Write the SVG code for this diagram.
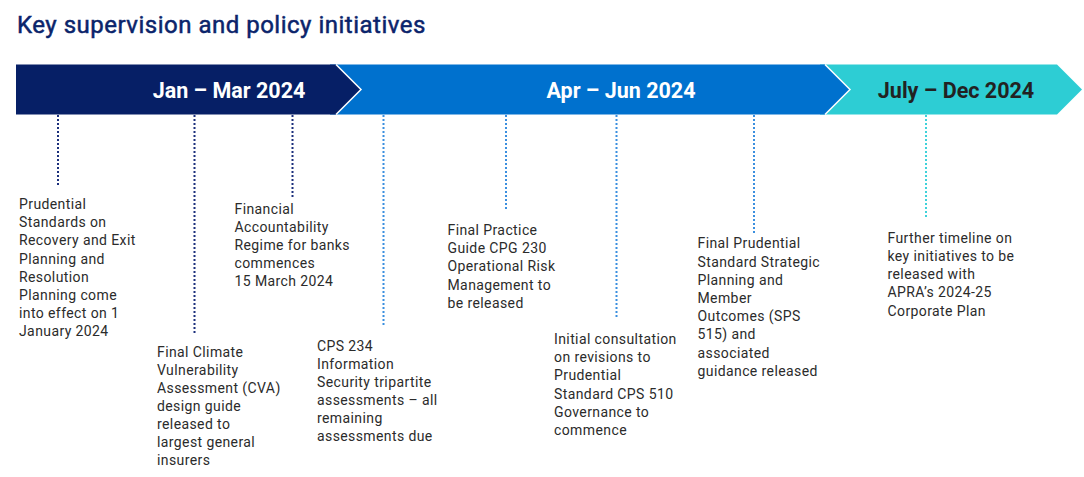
<svg xmlns="http://www.w3.org/2000/svg" width="1084" height="477" viewBox="0 0 1084 477">
<style>
.title{font-family:Roboto,"Liberation Sans",sans-serif;font-size:24px;font-weight:400;fill:#0b246b;stroke:#0b246b;stroke-width:0.5px;letter-spacing:0.5px}
.band{font-family:Roboto,"Liberation Sans",sans-serif;font-size:21.5px;font-weight:700;text-anchor:middle}
.body{font-family:Roboto,"Liberation Sans",sans-serif;font-size:14px;fill:#2b2b2b;letter-spacing:0.4px}
.sep{fill:none;stroke:#ffffff;stroke-width:1.5}
.dot{fill:none;stroke-width:2;stroke-dasharray:2 2}
.navy{stroke:#1b2f7c}
.blue{stroke:#3a8fdf}
.teal{stroke:#3fd2da}
</style>
<rect width="1084" height="477" fill="#ffffff"/>
<text class="title" x="17" y="32.5">Key supervision and policy initiatives</text>

<g id="phase-jul-dec">
<polygon points="820,64.5 1057,64.5 1082,89.5 1057,114.5 820,114.5" fill="#2dcdd4"/>
<text class="band" x="956" y="97.5" fill="#222222">July – Dec 2024</text>
</g>
<g id="phase-apr-jun">
<polygon points="330,64.5 825,64.5 850,89.5 825,114.5 330,114.5" fill="#0071ce"/>
<polyline class="sep" points="825,64.5 850,89.5 825,114.5"/>
<text class="band" x="621" y="97.5" fill="#ffffff">Apr – Jun 2024</text>
</g>
<g id="phase-jan-mar">
<polygon points="16,64.5 336,64.5 361,89.5 336,114.5 16,114.5" fill="#061f66"/>
<polyline class="sep" points="336,64.5 361,89.5 336,114.5"/>
<text class="band" x="229" y="97.5" fill="#ffffff">Jan – Mar 2024</text>
</g>

<g id="connectors">
<line class="dot navy" x1="58" y1="115" x2="58" y2="187"/>
<line class="dot navy" x1="194.5" y1="115" x2="194.5" y2="335"/>
<line class="dot navy" x1="292.5" y1="115" x2="292.5" y2="197"/>
<line class="dot blue" x1="383.5" y1="115" x2="383.5" y2="325"/>
<line class="dot blue" x1="506" y1="115" x2="506" y2="210"/>
<line class="dot blue" x1="616.5" y1="115" x2="616.5" y2="318"/>
<line class="dot blue" x1="754" y1="115" x2="754" y2="233"/>
<line class="dot teal" x1="926" y1="115" x2="926" y2="219"/>
</g>

<g id="m-recovery-exit">
<text class="body" x="19" y="209"><tspan x="19">Prudential</tspan><tspan x="19" dy="18.2">Standards on</tspan><tspan x="19" dy="18.2">Recovery and Exit</tspan><tspan x="19" dy="18.2">Planning and</tspan><tspan x="19" dy="18.2">Resolution</tspan><tspan x="19" dy="18.2">Planning come</tspan><tspan x="19" dy="18.2">into effect on 1</tspan><tspan x="19" dy="18.2">January 2024</tspan></text>
</g>
<g id="m-cva">
<text class="body" x="157" y="356.5"><tspan x="157">Final Climate</tspan><tspan x="157" dy="18.1">Vulnerability</tspan><tspan x="157" dy="18.1">Assessment (CVA)</tspan><tspan x="157" dy="18.1">design guide</tspan><tspan x="157" dy="18.1">released to</tspan><tspan x="157" dy="18.1">largest general</tspan><tspan x="157" dy="18.1">insurers</tspan></text>
</g>
<g id="m-far">
<text class="body" x="234.5" y="213.5"><tspan x="234.5">Financial</tspan><tspan x="234.5" dy="18.2">Accountability</tspan><tspan x="234.5" dy="18.2">Regime for banks</tspan><tspan x="234.5" dy="18.2">commences</tspan><tspan x="234.5" dy="18.2">15 March 2024</tspan></text>
</g>
<g id="m-cps234">
<text class="body" x="317" y="350.5"><tspan x="317">CPS 234</tspan><tspan x="317" dy="18.1">Information</tspan><tspan x="317" dy="18.1">Security tripartite</tspan><tspan x="317" dy="18.1">assessments – all</tspan><tspan x="317" dy="18.1">remaining</tspan><tspan x="317" dy="18.1">assessments due</tspan></text>
</g>
<g id="m-cpg230">
<text class="body" x="447.5" y="235"><tspan x="447.5">Final Practice</tspan><tspan x="447.5" dy="18.2">Guide CPG 230</tspan><tspan x="447.5" dy="18.2">Operational Risk</tspan><tspan x="447.5" dy="18.2">Management to</tspan><tspan x="447.5" dy="18.2">be released</tspan></text>
</g>
<g id="m-cps510">
<text class="body" x="554" y="344"><tspan x="554">Initial consultation</tspan><tspan x="554" dy="18.2">on revisions to</tspan><tspan x="554" dy="18.2">Prudential</tspan><tspan x="554" dy="18.2">Standard CPS 510</tspan><tspan x="554" dy="18.2">Governance to</tspan><tspan x="554" dy="18.2">commence</tspan></text>
</g>
<g id="m-sps515">
<text class="body" x="697.5" y="248.3"><tspan x="697.5">Final Prudential</tspan><tspan x="697.5" dy="18.2">Standard Strategic</tspan><tspan x="697.5" dy="18.2">Planning and</tspan><tspan x="697.5" dy="18.2">Member</tspan><tspan x="697.5" dy="18.2">Outcomes (SPS</tspan><tspan x="697.5" dy="18.2">515) and</tspan><tspan x="697.5" dy="18.2">associated</tspan><tspan x="697.5" dy="18.2">guidance released</tspan></text>
</g>
<g id="m-corporate-plan">
<text class="body" x="887.5" y="242.7"><tspan x="887.5">Further timeline on</tspan><tspan x="887.5" dy="18.2">key initiatives to be</tspan><tspan x="887.5" dy="18.2">released with</tspan><tspan x="887.5" dy="18.2">APRA’s 2024-25</tspan><tspan x="887.5" dy="18.2">Corporate Plan</tspan></text>
</g>
</svg>
